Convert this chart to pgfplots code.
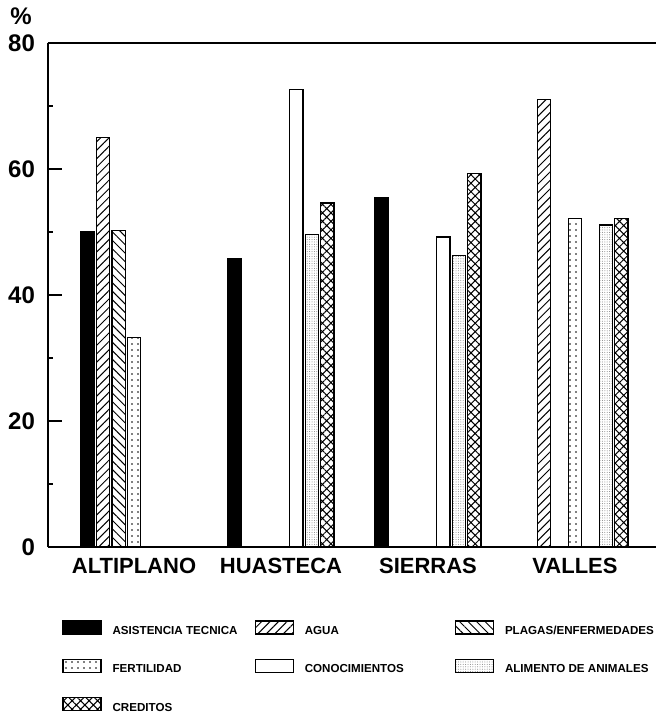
\documentclass[border=0pt]{standalone}
\usepackage{fontspec}
\setmainfont{Liberation Sans}
\usepackage{pgfplots}
\pgfplotsset{compat=1.18}
\usetikzlibrary{patterns.meta}
\begin{document}
\begin{tikzpicture}
\useasboundingbox (-24pt,-87.5pt) rectangle (304pt,273.5pt);
\begin{axis}[
  at={(0,0)}, anchor=south west,
  scale only axis, width=304pt, height=252pt,
  xmin=-0.585, xmax=3.551, ymin=0, ymax=80,
  axis x line*=bottom, axis y line*=left,
  axis line style={-, line width=0.8pt},
  ybar, bar width=0.09,
  xtick={0,1,2,3}, xticklabels={ALTIPLANO,HUASTECA,SIERRAS,VALLES},
  x tick style={draw=none},
  ytick={0,20,40,60,80}, minor ytick={10,30,50,70},
  tick align=inside, ytick pos=left,
  major tick length=7pt, minor tick length=2.5pt,
  y tick style={black, line width=0.6pt},
  /pgf/number format/assume math mode=true,
  yticklabel style={font=\bfseries\fontsize{12}{14}\selectfont, xshift=-3pt},
  xticklabel style={font=\bfseries\fontsize{11}{13}\selectfont, yshift=-2pt},
  legend columns=3,
  legend cell align=left,
  legend image code/.code={\draw[#1,line width=0.6pt] (0pt,-1pt) rectangle (19pt,5.5pt);},
  legend style={draw=none, fill=none, at={(0,0)}, anchor=north west,
    xshift=7pt, yshift=-36.5pt, inner sep=0pt, row sep=10.5pt,
    nodes={inner sep=0pt},
    font=\bfseries\fontsize{5.8}{7}\selectfont,
    /tikz/every odd column/.append style={column sep=5.5pt}},
]
% Asistencia tecnica
\addplot[draw=black, fill=black, line width=0.6pt, bar shift=-0.315]
  coordinates {(0,50) (1,45.8) (2,55.5)};
\addlegendentry{\makebox[71pt][l]{ASISTENCIA TECNICA}}
% Agua
\addplot[draw=black, fill=white, line width=0.6pt, bar shift=-0.21,
  postaction={pattern={Lines[angle=45,distance=3pt,line width=0.5pt]}}]
  coordinates {(0,65) (3,71)};
\addlegendentry{\makebox[75pt][l]{AGUA}}
% Plagas/enfermedades
\addplot[draw=black, fill=white, line width=0.6pt, bar shift=-0.105,
  postaction={pattern={Lines[angle=-45,distance=3pt,line width=0.5pt]}}]
  coordinates {(0,50.3)};
\addlegendentry{PLAGAS/ENFERMEDADES}
% Fertilidad
\addplot[draw=black, fill=white, line width=0.6pt, bar shift=0,
  postaction={pattern={Dots[distance=3pt,radius=0.45pt]}}]
  coordinates {(0,33.3) (3,52.2)};
\addlegendentry{\makebox[71pt][l]{FERTILIDAD}}
% Conocimientos
\addplot[draw=black, fill=white, line width=0.6pt, bar shift=0.105]
  coordinates {(1,72.6) (2,49.2)};
\addlegendentry{\makebox[75pt][l]{CONOCIMIENTOS}}
% Alimento de animales
\addplot[draw=black, fill=white, line width=0.6pt, bar shift=0.21,
  postaction={pattern={Dots[distance=1.2pt,radius=0.25pt]}, pattern color=gray}]
  coordinates {(1,49.6) (2,46.3) (3,51.1)};
\addlegendentry{ALIMENTO DE ANIMALES}
% Creditos
\addplot[draw=black, fill=white, line width=0.6pt, bar shift=0.315,
  postaction={pattern={Hatch[angle=45,distance=3pt,line width=0.5pt]}}]
  coordinates {(1,54.6) (2,59.3) (3,52.1)};
\addlegendentry{\makebox[71pt][l]{CREDITOS}}
\end{axis}
\draw[line width=0.8pt] (0,252pt) -- (304pt,252pt);
\node[font=\bfseries\fontsize{12}{14}\selectfont] at (-13.5pt,265.5pt) {\%};
\end{tikzpicture}
\end{document}
